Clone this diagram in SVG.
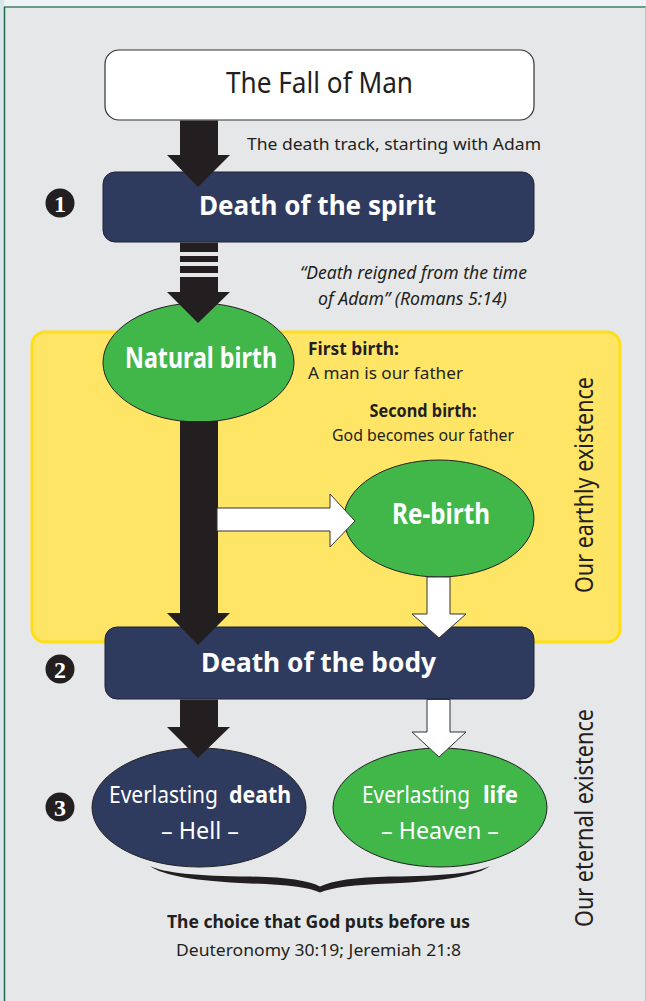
<svg xmlns="http://www.w3.org/2000/svg" width="646" height="1001" viewBox="0 0 646 1001">
<defs>
<style>
text{font-family:"Noto Sans","Open Sans","Liberation Sans",sans-serif;}
.box{fill:#2e3a5e;stroke:#1e2238;stroke-width:1;}
.grn{fill:#41b649;stroke:#222;stroke-width:1;}
.nav{fill:#2e3a5e;stroke:#222;stroke-width:1;}
.wt{fill:#fff;}
.bt{fill:#231f20;}
.b{font-weight:700;}
.blk{fill:#231f20;}
.warr{fill:#fff;stroke:#333;stroke-width:1;}
.num{fill:#231f20;}
.numt{fill:#fff;font-family:"Liberation Serif","DejaVu Serif",serif;font-weight:700;font-size:24px;text-anchor:middle;}
.side{font-size:26px;fill:#231f20;text-anchor:middle;}
</style>
</defs>
<rect x="0" y="0" width="646" height="1001" fill="#eef3f7"/>
<rect x="0" y="0" width="4" height="1001" fill="#d9e7ea"/>
<rect x="4" y="7" width="646" height="1000" fill="#e6e7e8"/>
<line x1="4" y1="7" x2="646" y2="7" stroke="#6a9a88" stroke-width="2"/>
<line x1="4.5" y1="7" x2="4.5" y2="1001" stroke="#1f6b4a" stroke-width="1.5"/>
<line x1="645.5" y1="7" x2="645.5" y2="1001" stroke="#b8c4c4" stroke-width="1"/>

<g id="earthly-zone">
<rect x="32" y="332" width="588" height="310" rx="13" fill="#ffe566" stroke="#ffdd17" stroke-width="3"/>
<text class="side" transform="translate(593,485) rotate(-90)" textLength="216" lengthAdjust="spacingAndGlyphs">Our earthly existence</text>
</g>
<g id="eternal-label">
<text class="side" transform="translate(593,818) rotate(-90)" textLength="218" lengthAdjust="spacingAndGlyphs">Our eternal existence</text>
</g>

<g id="fall">
<rect x="105" y="50" width="429" height="70" rx="14" fill="#fff" stroke="#333" stroke-width="1.2"/>
<text x="319.5" y="93" font-size="29" text-anchor="middle" fill="#231f20" textLength="187" lengthAdjust="spacingAndGlyphs">The Fall of Man</text>
</g>

<g id="spirit">
<rect class="box" x="103" y="172" width="431" height="70" rx="12"/>
<text x="317.5" y="215" font-size="26" class="wt b" text-anchor="middle" textLength="237" lengthAdjust="spacingAndGlyphs">Death of the spirit</text>
</g>
<g id="num1">
<circle class="num" cx="60" cy="203" r="14.5"/>
<text class="numt" x="60" y="211.5">1</text>
</g>

<g id="death-track-label">
<text x="247" y="150" font-size="17" fill="#231f20" textLength="294" lengthAdjust="spacingAndGlyphs">The death track, starting with Adam</text>
</g>
<g id="quote">
<text x="413.5" y="279" font-size="18" font-style="italic" fill="#231f20" text-anchor="middle" textLength="227" lengthAdjust="spacingAndGlyphs">“Death reigned from the time</text>
<text x="412.5" y="305" font-size="18" font-style="italic" fill="#231f20" text-anchor="middle" textLength="189" lengthAdjust="spacingAndGlyphs">of Adam” (Romans 5:14)</text>
</g>

<g id="natural-birth">
<ellipse class="grn" cx="198.5" cy="362.5" rx="95.5" ry="59.5"/>
<text x="201" y="368" font-size="28" class="wt b" text-anchor="middle" textLength="152" lengthAdjust="spacingAndGlyphs">Natural birth</text>
</g>
<g id="first-birth">
<text x="308" y="355" font-size="17" class="bt b" textLength="91" lengthAdjust="spacingAndGlyphs">First birth:</text>
<text x="308" y="379" font-size="17" class="bt" textLength="155" lengthAdjust="spacingAndGlyphs">A man is our father</text>
</g>
<g id="second-birth">
<text x="423" y="417" font-size="17" class="bt b" text-anchor="middle" textLength="107" lengthAdjust="spacingAndGlyphs">Second birth:</text>
<text x="423" y="441" font-size="17" class="bt" text-anchor="middle" textLength="182" lengthAdjust="spacingAndGlyphs">God becomes our father</text>
</g>

<g id="rebirth">
<ellipse class="grn" cx="439" cy="518.5" rx="95" ry="58.5"/>
<text x="441" y="524" font-size="28" class="wt b" text-anchor="middle" textLength="98" lengthAdjust="spacingAndGlyphs">Re-birth</text>
</g>

<g id="body">
<rect class="box" x="105" y="627" width="429" height="72" rx="12"/>
<text x="318.5" y="672" font-size="26" class="wt b" text-anchor="middle" textLength="235" lengthAdjust="spacingAndGlyphs">Death of the body</text>
</g>
<g id="num2">
<circle class="num" cx="60" cy="669" r="14.5"/>
<text class="numt" x="60" y="677.5">2</text>
</g>

<g id="everlasting-death">
<ellipse class="nav" cx="199" cy="807.5" rx="107" ry="59.5"/>
<text x="109" y="803" font-size="23" class="wt" textLength="109" lengthAdjust="spacingAndGlyphs">Everlasting</text>
<text x="229" y="803" font-size="23" class="wt b" textLength="62" lengthAdjust="spacingAndGlyphs">death</text>
<text x="200" y="839" font-size="23" class="wt" text-anchor="middle" textLength="78" lengthAdjust="spacingAndGlyphs">– Hell –</text>
</g>
<g id="num3">
<circle class="num" cx="60" cy="807" r="14.5"/>
<text class="numt" x="60" y="815.5">3</text>
</g>

<g id="everlasting-life">
<ellipse class="grn" cx="440" cy="807.5" rx="107" ry="59.5"/>
<text x="362" y="803" font-size="23" class="wt" textLength="108" lengthAdjust="spacingAndGlyphs">Everlasting</text>
<text x="483" y="803" font-size="23" class="wt b" textLength="35" lengthAdjust="spacingAndGlyphs">life</text>
<text x="440" y="839" font-size="23" class="wt" text-anchor="middle" textLength="118" lengthAdjust="spacingAndGlyphs">– Heaven –</text>
</g>

<g id="connectors">
<polygon class="blk" points="180,120.5 218,120.5 218,155 230,155 198,187 167,155 180,155"/>
<rect class="blk" x="180" y="242.5" width="38" height="9.5"/>
<rect class="blk" x="180" y="256" width="38" height="6"/>
<rect class="blk" x="180" y="266" width="38" height="7"/>
<polygon class="blk" points="180,277 218,277 218,292 230,292 198,323 167,292 180,292"/>
<polygon class="blk" points="180,421 218,421 218,613 230,613 198,645 167,613 180,613"/>
<polygon class="warr" points="217,508 330,508 330,494 355,521 330,547 330,531 217,531"/>
<polygon class="warr" points="427,577 450,577 450,614 466,614 439,638 412,614 427,614"/>
<polygon class="blk" points="180,699.5 218,699.5 218,727 230,727 198,758 167,727 180,727"/>
<polygon class="warr" points="427,699.5 450,699.5 450,732 466,732 439,757 412,732 427,732"/>
</g>

<g id="brace">
<path fill="#231f20" d="M150,866 Q168,880 250,883.5 Q303,885 320,892.5 Q337,885 390,883.5 Q472,880 490,866 Q470,876 390,876.5 Q338,877.5 320,886.5 Q302,877.5 250,876.5 Q170,876 150,866 Z"/>
</g>

<g id="choice">
<text x="318.5" y="928" font-size="17" class="bt b" text-anchor="middle" textLength="303" lengthAdjust="spacingAndGlyphs">The choice that God puts before us</text>
<text x="318.5" y="956" font-size="17" class="bt" text-anchor="middle" textLength="285" lengthAdjust="spacingAndGlyphs">Deuteronomy 30:19; Jeremiah 21:8</text>
</g>
</svg>
